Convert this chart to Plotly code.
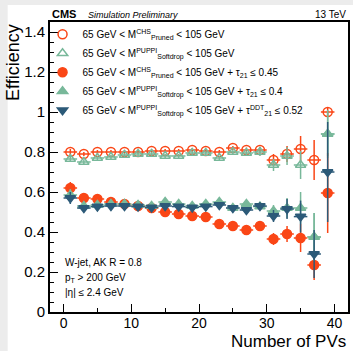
import plotly.graph_objects as go

npv = [1, 3, 5, 7, 9, 11, 13, 15, 17, 19, 21, 23, 25, 27, 29, 31, 33, 35, 37, 39]
bin_half = [1] * len(npv)

eff_pruned = [0.80, 0.79, 0.80, 0.80, 0.80, 0.80, 0.805, 0.805, 0.805, 0.81, 0.805, 0.80, 0.82, 0.81, 0.81, 0.76, 0.79, 0.815, 0.76, 1.00]
err_pruned = [0.015, 0.01, 0.01, 0.01, 0.01, 0.01, 0.01, 0.01, 0.01, 0.01, 0.01, 0.01, 0.01, 0.012, 0.015, 0.03, 0.04, 0.065, 0.10, 0.02]

eff_sd = [0.765, 0.75, 0.77, 0.775, 0.785, 0.79, 0.79, 0.78, 0.78, 0.795, 0.795, 0.77, 0.80, 0.795, 0.80, 0.735, 0.78, 0.735, 0.375, 0.89]
err_sd = [0.015, 0.012, 0.01, 0.01, 0.01, 0.01, 0.01, 0.01, 0.01, 0.01, 0.01, 0.01, 0.01, 0.012, 0.02, 0.03, 0.045, 0.07, 0.12, 0.11]

eff_pruned_tau = [0.62, 0.57, 0.565, 0.55, 0.54, 0.53, 0.52, 0.50, 0.49, 0.48, 0.475, 0.44, 0.43, 0.41, 0.43, 0.365, 0.39, 0.37, 0.235, 0.595]
err_pruned_tau = [0.03, 0.012, 0.01, 0.01, 0.01, 0.01, 0.01, 0.01, 0.01, 0.01, 0.01, 0.012, 0.012, 0.015, 0.02, 0.03, 0.04, 0.07, 0.075, 0.2]

eff_sd_tau = [0.585, 0.53, 0.535, 0.54, 0.54, 0.535, 0.53, 0.55, 0.54, 0.53, 0.54, 0.55, 0.52, 0.54, 0.527, 0.505, 0.52, 0.52, 0.375, 0.89]
err_sd_tau = [0.03, 0.012, 0.01, 0.01, 0.01, 0.01, 0.01, 0.01, 0.01, 0.01, 0.01, 0.012, 0.012, 0.015, 0.02, 0.03, 0.05, 0.08, 0.12, 0.12]

eff_sd_ddt = [0.57, 0.52, 0.527, 0.53, 0.53, 0.527, 0.523, 0.53, 0.527, 0.523, 0.527, 0.535, 0.52, 0.51, 0.53, 0.48, 0.515, 0.477, 0.29, 0.70]
err_sd_ddt = [0.03, 0.012, 0.01, 0.01, 0.01, 0.01, 0.01, 0.01, 0.01, 0.01, 0.01, 0.012, 0.012, 0.015, 0.02, 0.03, 0.05, 0.08, 0.12, 0.25]

y_ticks = [0, 0.2, 0.4, 0.6, 0.8, 1.0, 1.2, 1.4]
y_ticklabels = ["0", "0.2", "0.4", "0.6", "0.8", "1", "1.2", "1.4"]
x_ticks = [0, 10, 20, 30, 40]

ORANGE = "#fa4616"
GREEN = "#78b89a"
NAVY = "#2c5a78"

series = [
    ("65 GeV < M<sup>CHS</sup><sub>Pruned</sub> < 105 GeV", eff_pruned, err_pruned, "circle-open", ORANGE, 9),
    ("65 GeV < M<sup>PUPPI</sup><sub>Softdrop</sub> < 105 GeV", eff_sd, err_sd, "triangle-up-open", GREEN, 9),
    ("65 GeV < M<sup>CHS</sup><sub>Pruned</sub> < 105 GeV + τ<sub>21</sub> ≤ 0.45", eff_pruned_tau, err_pruned_tau, "circle", ORANGE, 9),
    ("65 GeV < M<sup>PUPPI</sup><sub>Softdrop</sub> < 105 GeV + τ<sub>21</sub> ≤ 0.4", eff_sd_tau, err_sd_tau, "triangle-up", GREEN, 9),
    ("65 GeV < M<sup>PUPPI</sup><sub>Softdrop</sub> < 105 GeV + τ<sup>DDT</sup><sub>21</sub> ≤ 0.52", eff_sd_ddt, err_sd_ddt, "triangle-down", NAVY, 9),
]

fig = go.Figure()
for name, y, ey, sym, col, size in series:
    fig.add_trace(go.Scatter(
        x=npv, y=y, mode="markers", name=name,
        marker=dict(symbol=sym, color=col, size=size,
                    line=dict(color=col, width=1.5)),
        error_x=dict(type="data", array=bin_half, color=col, thickness=1.5, width=0),
        error_y=dict(type="data", array=ey, color=col, thickness=1.5, width=0),
    ))

FONT = "Liberation Sans, Arial, sans-serif"

fig.update_layout(
    width=353, height=351,
    margin=dict(l=50, r=3, t=22, b=39),
    paper_bgcolor="#ececec",
    plot_bgcolor="rgba(0,0,0,0)",
    font=dict(family=FONT, color="black"),
    showlegend=True,
    legend=dict(x=-0.025, y=1.008, xanchor="left", yanchor="top",
                bgcolor="rgba(0,0,0,0)", font=dict(size=10, family=FONT),
                tracegroupgap=0, itemwidth=30),
    shapes=[dict(type="rect", xref="paper", yref="paper",
                 x0=-0.142, x1=1.05, y0=-0.3, y1=1.0586,
                 fillcolor="white", line=dict(width=0), layer="below")],
)

fig.update_xaxes(range=[-2, 42], tickvals=x_ticks, ticks="inside", ticklen=8,
                 tickwidth=1.2, tickcolor="black",
                 minor=dict(ticks="inside", ticklen=4, dtick=5, tickcolor="black"),
                 showline=True, linecolor="black", linewidth=2, mirror=True,
                 showgrid=False, zeroline=False, ticklabelstandoff=-3,
                 tickfont=dict(size=14, family=FONT))
fig.update_yaxes(range=[0, 1.45], tickvals=y_ticks, ticktext=y_ticklabels,
                 ticks="inside", ticklen=8, tickwidth=1.2, tickcolor="black",
                 minor=dict(ticks="inside", ticklen=4, dtick=0.05, tickcolor="black"),
                 showline=True, linecolor="black", linewidth=2, mirror=True,
                 showgrid=False, zeroline=False,
                 tickfont=dict(size=15, family=FONT))

ann = [
    dict(text="<b>CMS</b>", x=0, y=1.0, xanchor="left", yanchor="bottom", font=dict(size=11)),
    dict(text="<i>Simulation Preliminary</i>", x=0.12, y=1.0, xanchor="left", yanchor="bottom", font=dict(size=9)),
    dict(text="13 TeV", x=1.0, y=1.0, xanchor="right", yanchor="bottom", font=dict(size=10)),
    dict(text="W-jet, AK R = 0.8", x=0.042, y=0.172, xanchor="left", yanchor="middle", font=dict(size=10)),
    dict(text="p<sub>T</sub> > 200 GeV", x=0.042, y=0.118, xanchor="left", yanchor="middle", font=dict(size=10)),
    dict(text="|η| ≤ 2.4 GeV", x=0.042, y=0.066, xanchor="left", yanchor="middle", font=dict(size=10)),
    dict(text="Efficiency", x=-0.126, y=1.0, xanchor="center", yanchor="top", textangle=-90, font=dict(size=18)),
    dict(text="Number of PVs", x=1.0, y=-0.1, xanchor="right", yanchor="middle", font=dict(size=17)),
]
for a in ann:
    a.update(xref="paper", yref="paper", showarrow=False)
    a["font"]["family"] = FONT
    fig.add_annotation(**a)

fig.write_html("out.html", config={"displayModeBar": False},
               post_script="document.body.style.margin='0px';document.body.style.padding='0px';document.body.style.overflow='hidden';")
